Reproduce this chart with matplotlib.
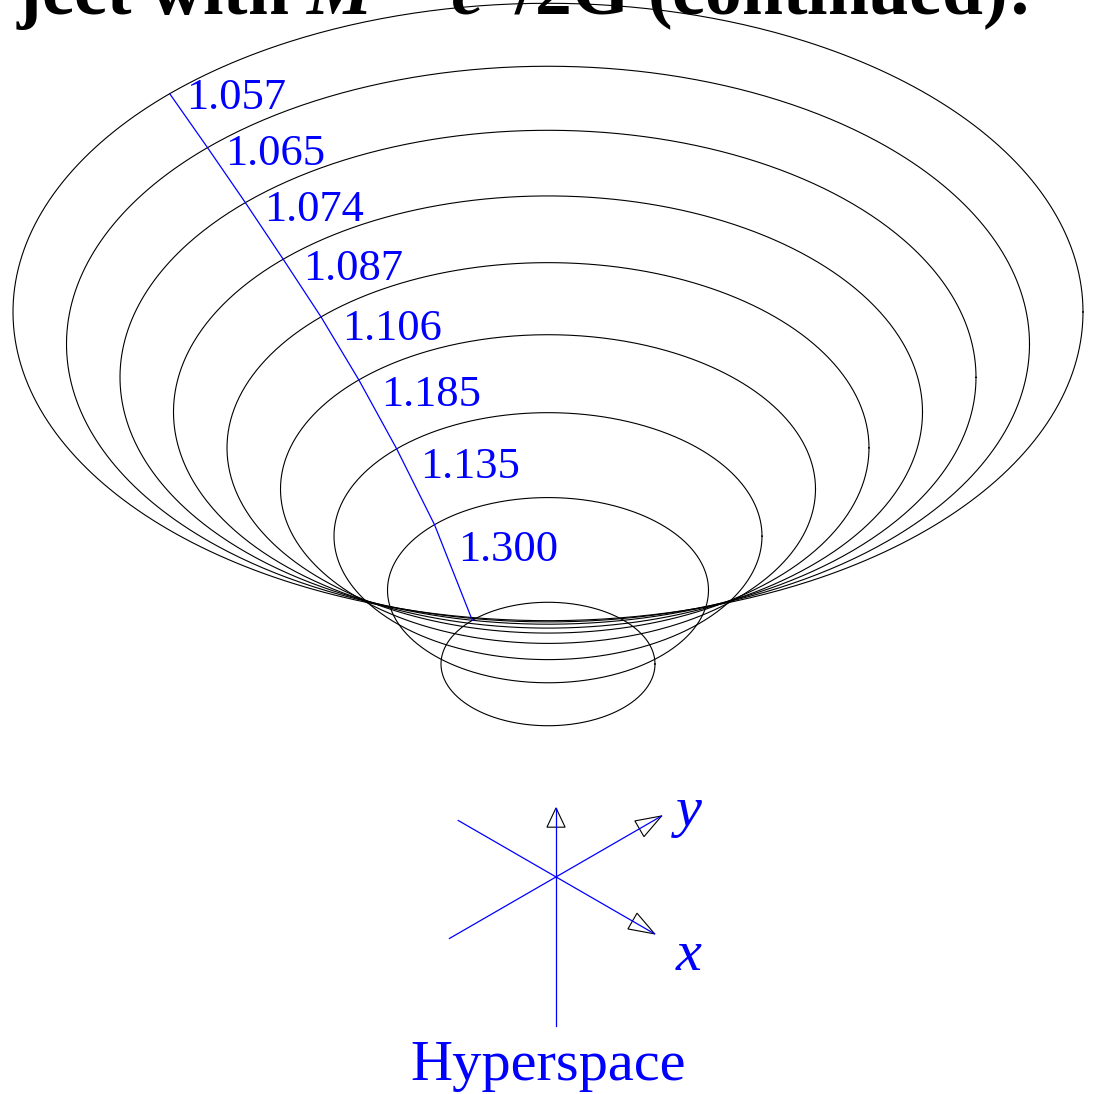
import numpy as np
import matplotlib
matplotlib.use("Agg")
import matplotlib.pyplot as plt
from matplotlib.patches import Polygon

# embedding rings: radius and (projected) height of each ring centre
RADII = [2, 3, 4, 5, 6, 7, 8, 9, 10]
HEIGHTS = [0.0, 1.38, 2.39, 3.27, 4.04, 4.71, 5.36, 5.98, 6.58]
# labels along the meridian, outer ring -> inner ring
RING_LABELS = ["1.057", "1.065", "1.074", "1.087", "1.106", "1.185", "1.135", "1.300"]

TITLE = "ject with $M$ = $c^2$/2G (continued):"
FLATTEN = 0.577          # b/a of the projected circles
MERIDIAN_DEG = 135.0
BLUE = "#0000ff"
SERIF = "Liberation Serif"

plt.rcParams["mathtext.fontset"] = "custom"
plt.rcParams["mathtext.rm"] = "Liberation Serif:bold"
plt.rcParams["mathtext.it"] = "Liberation Serif:italic:bold"

fig = plt.figure(figsize=(10.93, 10.94), dpi=100)
ax = fig.add_axes([0, 0, 1, 1])
ax.set_xlim(-10.243, 10.187)
ax.set_ylim(-8.037, 12.411)
ax.set_aspect("equal")
ax.axis("off")

t = np.linspace(0, 2 * np.pi, 600)
for r, h in zip(RADII, HEIGHTS):
    ax.plot(r * np.cos(t), h + FLATTEN * r * np.sin(t), color="black", lw=0.8)

# meridian line through the rings
phi = np.deg2rad(MERIDIAN_DEG)
mx = np.array(RADII) * np.cos(phi)
my = np.array(HEIGHTS) + FLATTEN * np.array(RADII) * np.sin(phi)
ax.plot(mx, my, color=BLUE, lw=0.9)

# labels between consecutive rings (outer first), drift a bit lower towards the throat
px, py = mx[::-1], my[::-1]
for i, lab in enumerate(RING_LABELS):
    f = 0.08 + 0.027 * i
    x0 = px[i] + f * (px[i + 1] - px[i])
    y0 = py[i] + f * (py[i + 1] - py[i])
    ax.annotate(lab, (x0, y0), xytext=(10, 0), textcoords="offset points",
                ha="left", va="center", color=BLUE, fontsize=32, family=SERIF)

# little coordinate triad
cx, cy = 0.15, -3.98
dirs = {
    "z": (np.array([0.0, 1.0]), 1.29, 2.79, 0.36),
    "x": (np.array([np.cos(np.deg2rad(-30)), np.sin(np.deg2rad(-30))]), 2.13, 2.11, 0.48),
    "y": (np.array([np.cos(np.deg2rad(30)), np.sin(np.deg2rad(30))]), 2.28, 2.30, 0.48),
}
head_w = 0.17
for name, (d, lp, lm, head_len) in dirs.items():
    tip = np.array([cx, cy]) + lp * d
    tail = np.array([cx, cy]) - lm * d
    ax.plot([tail[0], tip[0]], [tail[1], tip[1]], color=BLUE, lw=0.9)
    n = np.array([-d[1], d[0]])
    base = tip - head_len * d
    tri = Polygon([tip, base + head_w * n, base - head_w * n], closed=True,
                  fill=False, ec="black", lw=0.8)
    ax.add_patch(tri)

ax.text(2.64, -3.03, "y", color=BLUE, fontsize=42, family=SERIF,
        style="italic", ha="center", va="baseline")
ax.text(2.62, -5.72, "x", color=BLUE, fontsize=42, family=SERIF,
        style="italic", ha="center", va="baseline")
ax.text(0.0, -7.776, "Hyperspace", color=BLUE, fontsize=42, family=SERIF,
        ha="center", va="baseline")

fig.text(0.9397, 0.9863, TITLE, ha="right", va="baseline", fontsize=53,
         fontweight="bold", family=SERIF)

fig.savefig("out.png", dpi=100)
